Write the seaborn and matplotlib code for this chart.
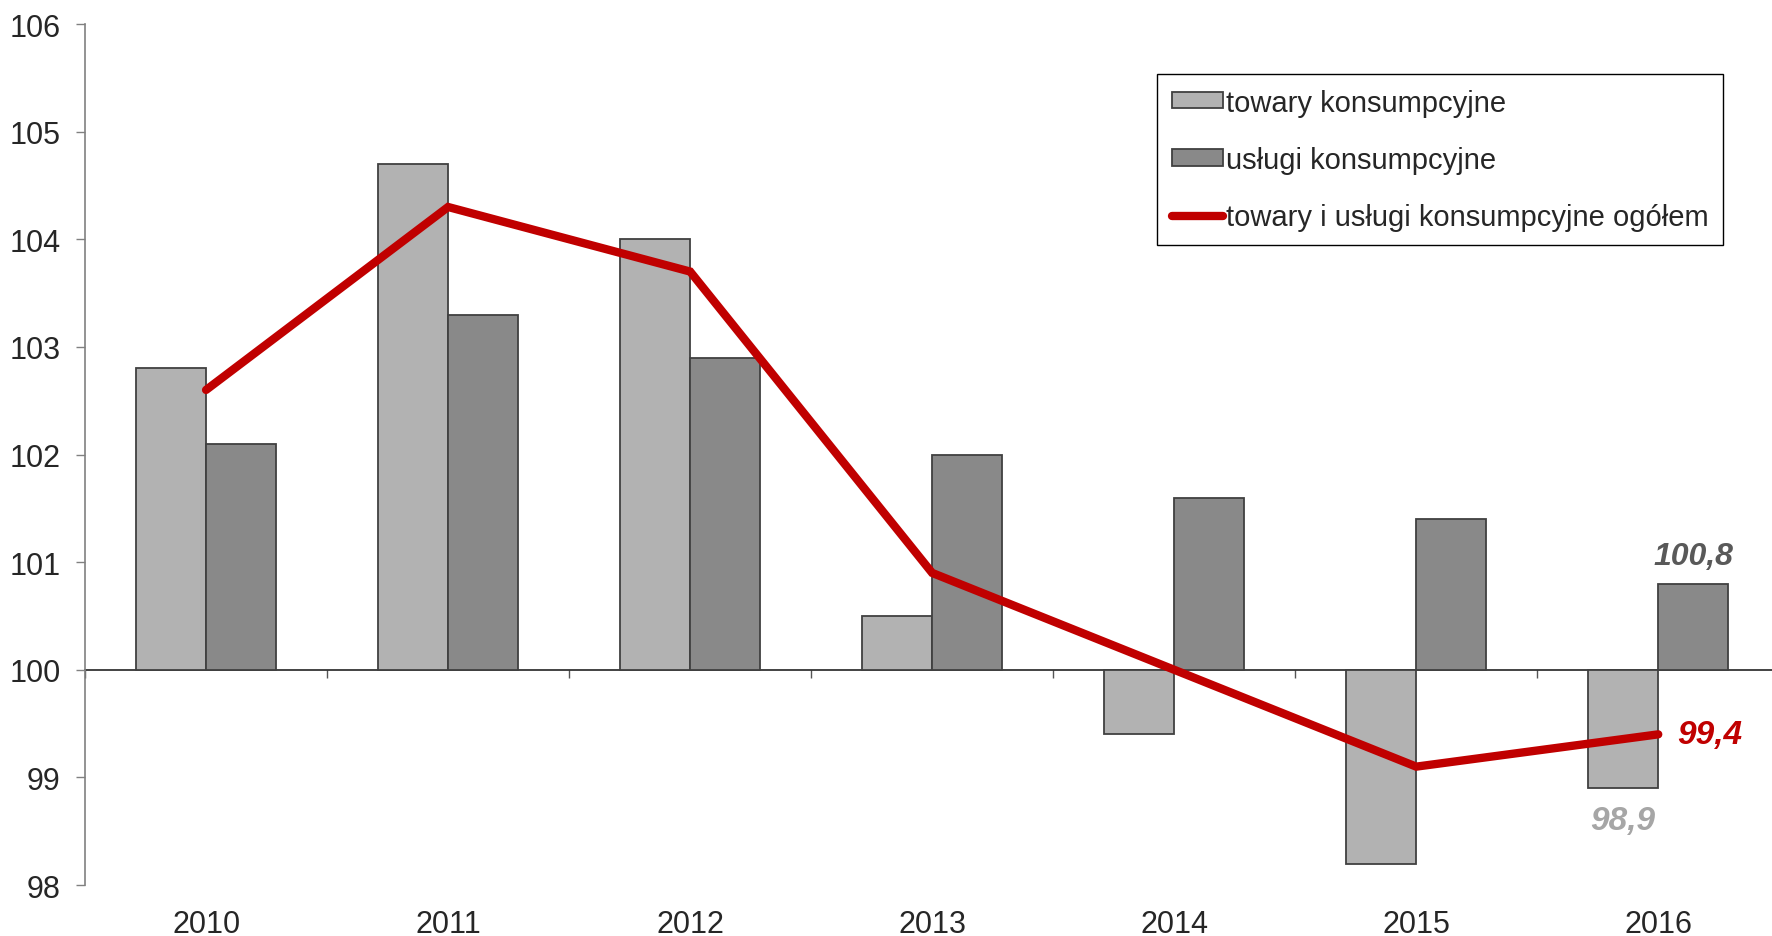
import numpy as np
import pandas as pd
import seaborn as sns
from matplotlib import pyplot as plt

years = ["2010", "2011", "2012", "2013", "2014", "2015", "2016"]
goods = [102.8, 104.7, 104.0, 100.5, 99.4, 98.2, 98.9]
services = [102.1, 103.3, 102.9, 102.0, 101.6, 101.4, 100.8]
total = [102.6, 104.3, 103.7, 100.9, 100.0, 99.1, 99.4]

goods_label = "towary konsumpcyjne"
services_label = "usługi konsumpcyjne"
total_label = "towary i usługi konsumpcyjne ogółem"
y_ticks = [98, 99, 100, 101, 102, 103, 104, 105, 106]

BASE = 100
LIGHT = "#b2b2b2"
DARK = "#898989"
RED = "#c00000"

sns.set_style("white")
plt.rcParams["font.family"] = ["Liberation Sans", "DejaVu Sans"]

df = pd.DataFrame({
    "rok": years * 2,
    "grupa": [goods_label] * len(years) + [services_label] * len(years),
    "wartosc": goods + services,
})
df["wysokosc"] = df["wartosc"] - BASE

fig = plt.figure(figsize=(17.72, 9.37), dpi=100)
ax = fig.add_axes([0.048, 0.0544, 0.952, 0.9189])

sns.barplot(data=df, x="rok", y="wysokosc", hue="grupa", bottom=BASE,
            palette=[LIGHT, DARK], width=0.58, edgecolor="#404040",
            linewidth=1.3, ax=ax, zorder=2, legend=False)

pos = np.arange(len(years))
sns.lineplot(x=pos, y=total, color=RED, linewidth=6, ax=ax,
             label=total_label, zorder=4)
for ln in ax.lines:
    ln.set_solid_capstyle("round")
    ln.set_solid_joinstyle("miter")

ax.set_xlim(-0.5, 6.47)
ax.set_ylim(98, 106)
ax.set_yticks(y_ticks)
ax.set_yticklabels([str(t) for t in y_ticks])
ax.set_xticks(pos)
ax.set_xticklabels(years)
ax.set_xlabel("")
ax.set_ylabel("")

for s in ["top", "right", "bottom"]:
    ax.spines[s].set_visible(False)
ax.spines["left"].set_color("#808080")
ax.spines["left"].set_linewidth(1.2)
ax.tick_params(axis="y", direction="out", length=6.5, width=1.0,
               color="#808080", pad=11, labelsize=22, left=True)
ax.tick_params(axis="x", length=0, pad=17, labelsize=22)

# horizontal axis line at 100 with ticks between years
sec = ax.secondary_xaxis((BASE - 98) / (106 - 98))
sec.set_xticks(np.arange(-0.5, len(years), 1.0))
sec.tick_params(axis="x", direction="out", length=6, width=1.0,
                color="#555555", labelbottom=False)
sec.spines["bottom"].set_color("#222222")
sec.spines["bottom"].set_linewidth(1.2)

# annotations for 2016
i = len(years) - 1
ax.annotate(f"{services[i]:.1f}".replace(".", ","), xy=(i + 0.145, services[i]),
            xytext=(0, 9), textcoords="offset points", ha="center", va="bottom",
            fontsize=23, fontweight="bold", fontstyle="italic", color="#595959")
ax.annotate(f"{total[i]:.1f}".replace(".", ","), xy=(i, total[i]),
            xytext=(14, 0), textcoords="offset points", ha="left", va="center",
            fontsize=24, fontweight="bold", fontstyle="italic", color=RED)
ax.annotate(f"{goods[i]:.1f}".replace(".", ","), xy=(i - 0.145, goods[i]),
            xytext=(0, -12), textcoords="offset points", ha="center", va="top",
            fontsize=24, fontweight="bold", fontstyle="italic", color="#a6a6a6")

line_handles, line_labels = ax.get_legend_handles_labels()
handles = [ax.containers[0], ax.containers[1]] + line_handles
labels = [goods_label, services_label] + line_labels
leg = ax.legend(handles, labels, loc="upper right", bbox_to_anchor=(0.971, 0.942),
                fontsize=21, frameon=True, fancybox=False, framealpha=1,
                edgecolor="#000000", handlelength=1.75, handleheight=0.5,
                handletextpad=0.1, labelspacing=1.0, borderpad=0.5,
                borderaxespad=0)
leg.get_frame().set_linewidth(1.0)

plt.savefig("out.png", dpi=100)
